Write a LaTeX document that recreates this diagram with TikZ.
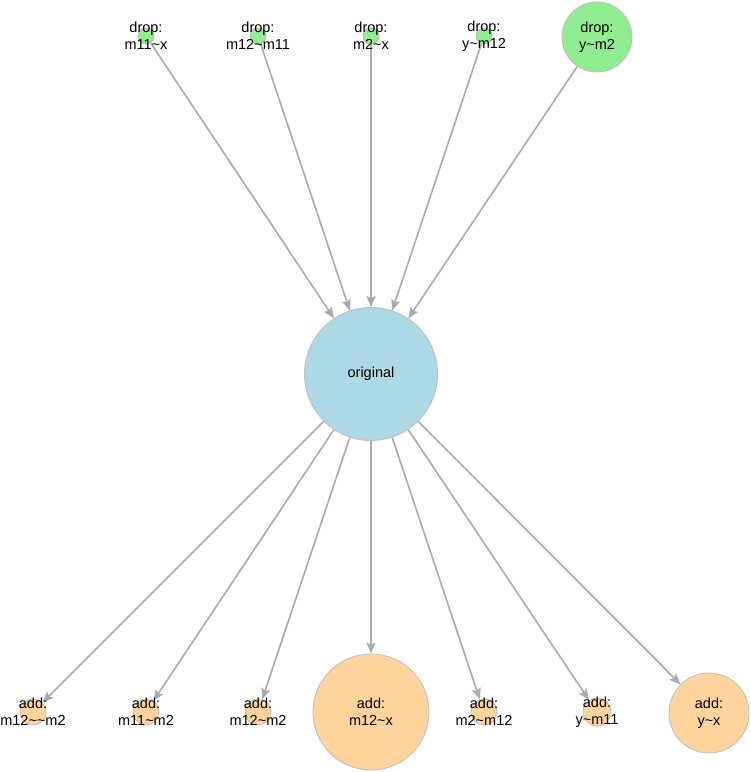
\documentclass[tikz,border=0pt]{standalone}
\usepackage{fontspec}
\setmainfont{Liberation Sans}
\usetikzlibrary{arrows.meta,backgrounds}

\begin{document}
\begin{tikzpicture}[x=1pt,y=-1pt,
  nodo/.style={circle, draw=bordoGray, line width=0.8pt, inner sep=0pt},
  etich/.style={font=\fontsize{14.5}{17}\selectfont, align=center, text=black},
  freccia/.style={draw=lineGray, line width=1.6pt, -{Stealth[length=11pt,width=9pt,inset=2pt]}}]

% Colori
\definecolor{colDrop}{HTML}{90EE90}
\definecolor{colOrig}{HTML}{ADD8E6}
\definecolor{colAdd}{HTML}{FFD39B}
\definecolor{lineGray}{HTML}{AAAAAA}
\definecolor{bordoGray}{HTML}{BDBDBD}

% Area
\useasboundingbox (0,0) rectangle (751,772);

% Nodo centrale
\node[nodo, fill=colOrig, minimum size=133pt, label={[etich]center:original}] (orig) at (371,374) {};

% Nodi drop (in alto)
\node[nodo, fill=colDrop, minimum size=16pt, label={[etich]center:{drop:\\m11\textasciitilde x}}] (d1) at (146,36) {};
\node[nodo, fill=colDrop, minimum size=16pt, label={[etich]center:{drop:\\m12\textasciitilde m11}}] (d2) at (258,36) {};
\node[nodo, fill=colDrop, minimum size=16pt, label={[etich]center:{drop:\\m2\textasciitilde x}}] (d3) at (371,36) {};
\node[nodo, fill=colDrop, minimum size=16pt, label={[etich]center:{drop:\\y\textasciitilde m12}}] (d4) at (484,36) {};
\node[nodo, fill=colDrop, minimum size=70pt, label={[etich]center:{drop:\\y\textasciitilde m2}}] (d5) at (597,37) {};

% Nodi add (in basso)
\node[nodo, fill=colAdd, minimum size=26pt, label={[etich]center:{add:\\m12\textasciitilde\textasciitilde m2}}] (a1) at (33,712) {};
\node[nodo, fill=colAdd, minimum size=26pt, label={[etich]center:{add:\\m11\textasciitilde m2}}] (a2) at (146,712) {};
\node[nodo, fill=colAdd, minimum size=26pt, label={[etich]center:{add:\\m12\textasciitilde m2}}] (a3) at (258,712) {};
\node[nodo, fill=colAdd, minimum size=116pt, label={[etich]center:{add:\\m12\textasciitilde x}}] (a4) at (371,712) {};
\node[nodo, fill=colAdd, minimum size=26pt, label={[etich]center:{add:\\m2\textasciitilde m12}}] (a5) at (484,712) {};
\node[nodo, fill=colAdd, minimum size=28pt, label={[etich]center:{add:\\y\textasciitilde m11}}] (a6) at (597,712) {};
\node[nodo, fill=colAdd, minimum size=80pt, label={[etich]center:{add:\\y\textasciitilde x}}] (a7) at (709,713) {};

% Archi (sotto i nodi)
\begin{pgfonlayer}{background}
\draw[freccia] (d1) -- (orig);
\draw[freccia] (d2) -- (orig);
\draw[freccia] (d3) -- (orig);
\draw[freccia] (d4) -- (orig);
\draw[freccia] (d5) -- (orig);

\draw[freccia] (orig) -- (a1);
\draw[freccia] (orig) -- (a2);
\draw[freccia] (orig) -- (a3);
\draw[freccia] (orig) -- (a4);
\draw[freccia] (orig) -- (a5);
\draw[freccia] (orig) -- (a6);
\draw[freccia] (orig) -- (a7);
\end{pgfonlayer}

\end{tikzpicture}
\end{document}
